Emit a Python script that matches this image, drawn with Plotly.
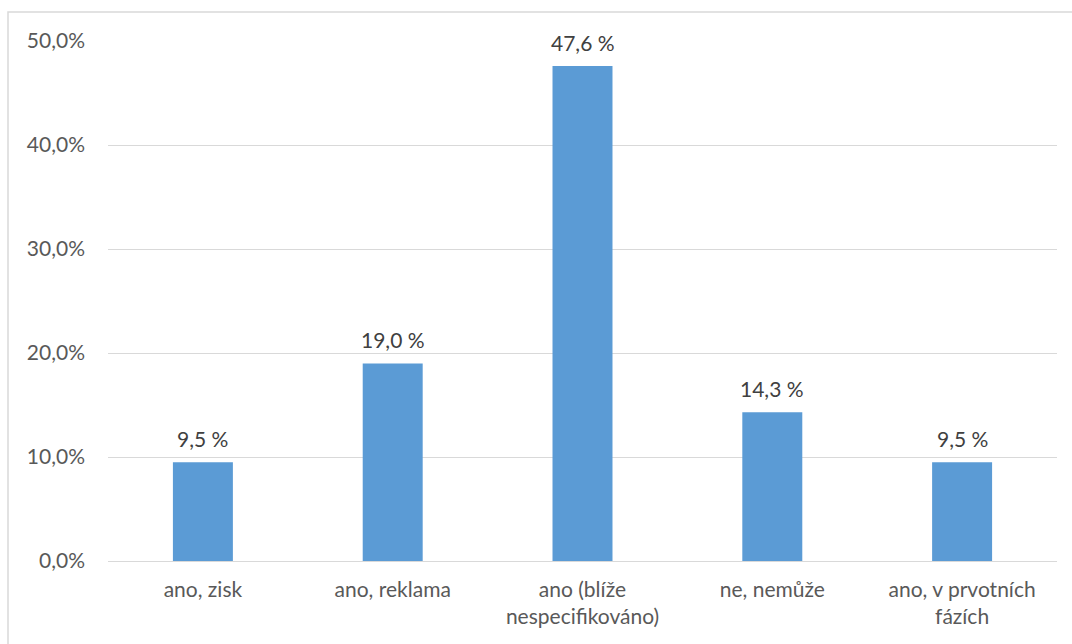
import plotly.graph_objects as go

categories = ["ano, zisk", "ano, reklama", "ano (blíže<br>nespecifikováno)", "ne, nemůže", "ano, v prvotních<br>fázích"]
values = [9.5, 19.0, 47.6, 14.3, 9.5]
y_ticks = [0, 10, 20, 30, 40, 50]
y_tick_labels = ["0,0%", "10,0%", "20,0%", "30,0%", "40,0%", "50,0%"]

bar_labels = [f"{v:.1f}".replace(".", ",") + " %" for v in values]

FONT = "Lato"
SIZE = 21
TXT = "#595959"
GRID = "#D9D9D9"

fig = go.Figure(go.Bar(
    x=categories, y=values,
    marker=dict(color="#5B9BD5", line=dict(width=0)),
    width=0.316,
    cliponaxis=False,
))

for c, v, t in zip(categories, values, bar_labels):
    fig.add_annotation(x=c, y=v, text=t, showarrow=False, yanchor="bottom", yshift=9,
                       font=dict(family=FONT, size=SIZE, color="#404040"))

fig.update_layout(
    width=1072, height=644,
    margin=dict(l=108, r=15, t=41, b=83),
    paper_bgcolor="white", plot_bgcolor="white",
    showlegend=False,
    font=dict(family=FONT, size=SIZE, color=TXT),
    xaxis=dict(showgrid=False, showline=False, ticks="", tickfont=dict(size=SIZE, color=TXT),
               ticklabelstandoff=14),
    yaxis=dict(range=[0, 50], tickvals=y_ticks, ticktext=y_tick_labels,
               showgrid=True, gridcolor=GRID, gridwidth=1, zeroline=True, zerolinecolor=GRID,
               zerolinewidth=1, showline=False, ticks="", tickfont=dict(size=SIZE, color=TXT),
               ticklabelstandoff=22),
    shapes=[dict(type="rect", xref="paper", yref="paper",
                 x0=(8 - 108) / 949, x1=1.2, y0=-0.4, y1=1 + (41 - 12) / 520,
                 line=dict(color="#D9D9D9", width=1.5), fillcolor="rgba(0,0,0,0)", layer="below")],
)

fig.write_html("out.html")
